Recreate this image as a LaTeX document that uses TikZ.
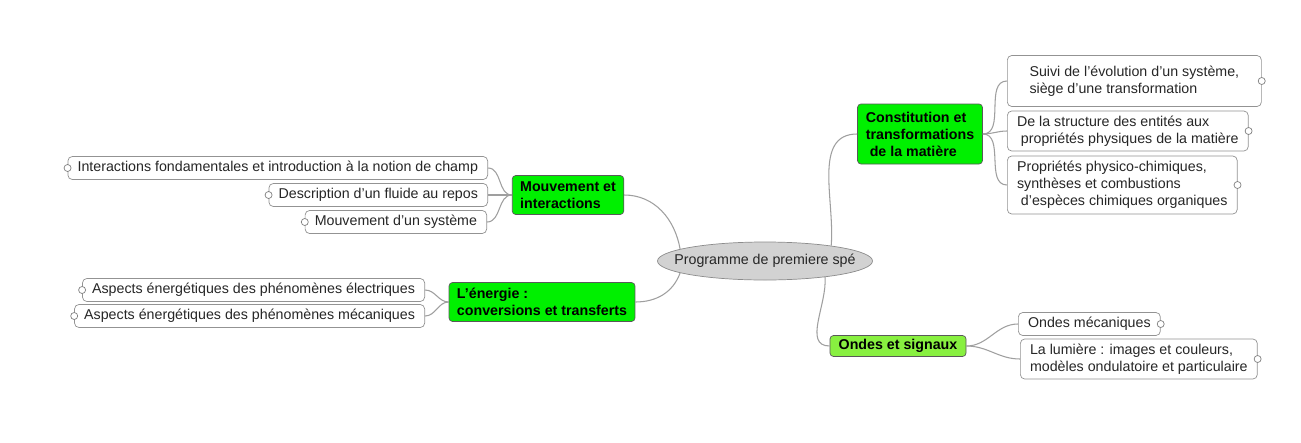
\documentclass[tikz,border=0pt]{standalone}
\usepackage{fontspec}
\setmainfont{Liberation Sans}
\usetikzlibrary{shapes.geometric}
\definecolor{topicgreen}{HTML}{00F000}
\definecolor{wavegreen}{HTML}{88F040}
\begin{document}
\begin{tikzpicture}[x=0.2mm, y=-0.2mm,
    every node/.style={font=\fontsize{8.1}{9.7}\selectfont, text=black!85},
    leaf/.style={draw=gray!85, rounded corners=2.5pt, fill=white, align=left,
      inner xsep=5.5pt, inner ysep=2.2pt, minimum height=4.6mm},
    topic/.style={draw=gray!70!black, rounded corners=2pt, fill=topicgreen, align=left,
      font=\fontsize{8.1}{9.7}\selectfont\bfseries, text=black, inner xsep=4.5pt, inner ysep=2pt},
    knob/.style={circle, draw=gray, fill=white, inner sep=0pt, minimum size=4pt},
    link/.style={draw=gray!75, line width=0.6pt}]
    % fond et cadre
    \useasboundingbox (0,0) rectangle (1301,442);
    \fill[white] (0,0) rectangle (1301,442);

    % noeud central
    \node[ellipse, draw=gray!90, fill=gray!35, minimum width=43mm, minimum height=7.6mm,
      inner xsep=-9pt, inner ysep=0pt] (prog) at (765,261) {Programme de premiere spé};

    % 1. les quatre themes
    \node[topic, minimum width=22mm, minimum height=7.8mm] (mouv) at (568,195)
      {Mouvement et\\interactions};
    \node[topic, minimum width=36.8mm, minimum height=7.8mm] (ener) at (542,302)
      {L'énergie :\\conversions et transferts};
    \node[topic, minimum width=25mm, minimum height=12mm] (const) at (920,134)
      {Constitution et\\transformations\\\ de la matière};
    \node[topic, fill=wavegreen, minimum width=27.2mm, minimum height=4.2mm] (ondes) at (898,346)
      {Ondes et signaux};

    % 2. les feuilles a gauche
    \node[leaf, anchor=east] (inter) at (488,168)
      {Interactions fondamentales et introduction à la notion de champ};
    \node[leaf, anchor=east] (fluide) at (488,195) {Description d'un fluide au repos};
    \node[leaf, anchor=east] (syst) at (487,222) {Mouvement d'un système};
    \node[leaf, anchor=east] (elec) at (425,290)
      {Aspects énergétiques des phénomènes électriques};
    \node[leaf, anchor=east] (meca) at (425,316)
      {Aspects énergétiques des phénomènes mécaniques};

    % 3. les feuilles a droite
    \node[leaf, anchor=west, minimum width=50.8mm, minimum height=10.2mm] (suivi) at (1007,81)
      {Suivi de l'évolution d'un système,\\siège d'une transformation};
    \node[leaf, anchor=west, minimum height=8mm] (struct) at (1007,131)
      {De la structure des entités aux\\\ propriétés physiques de la matière};
    \node[leaf, anchor=west, minimum height=11.6mm] (propr) at (1007,185)
      {Propriétés physico-chimiques,\\synthèses et combustions\\\ d'espèces chimiques organiques};
    \node[leaf, anchor=west] (omeca) at (1018,324) {Ondes mécaniques};
    \node[leaf, anchor=west, minimum height=8mm] (lum) at (1020,359)
      {La lumière : images et couleurs,\\modèles ondulatoire et particulaire};

    % liens du noeud central vers les themes
    \draw[link] (mouv.east) to[out=0, in=100] (prog.172);
    \draw[link] (ener.east) to[out=0, in=250] (prog.188);
    \draw[link] (const.west) to[out=180, in=85] (prog.13);
    \draw[link] (ondes.west) to[out=180, in=275] (prog.-15);

    % liens des themes vers les feuilles
    \foreach \f in {inter, fluide, syst}
      \draw[link] (mouv.west) to[out=180, in=0] (\f.east);
    \foreach \f in {elec, meca}
      \draw[link] (ener.west) to[out=180, in=0] (\f.east);
    \foreach \f in {suivi, struct, propr}
      \draw[link] (const.east) to[out=0, in=180] (\f.west);
    \foreach \f in {omeca, lum}
      \draw[link] (ondes.east) to[out=0, in=180] (\f.west);

    % petits ronds au bout des feuilles
    \foreach \f in {inter, fluide, syst, elec, meca}
      \node[knob] at (\f.west) {};
    \foreach \f in {suivi, struct, propr, omeca, lum}
      \node[knob] at (\f.east) {};
  \end{tikzpicture}
\end{document}
